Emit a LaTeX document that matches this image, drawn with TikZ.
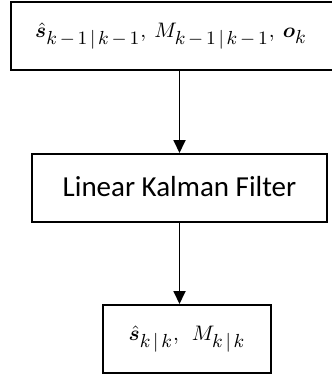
\documentclass[tikz,border=0pt]{standalone}
\usepackage{amsmath}
\usepackage{bm}
\usepackage{graphicx}
\usepackage{fontspec}
\newfontfamily\carlito{Carlito}
\usetikzlibrary{arrows.meta}
\DeclareMathSizes{10}{10}{9}{7}
\newcommand{\smi}{\mskip2.6mu{-}\mskip2.6mu}
\newcommand{\sbar}{\mskip2.5mu|\mskip2.5mu}
\newcommand{\bigmath}[1]{\scalebox{2.1}{$#1$}}
\tikzset{
  boxnode/.style={draw, line width=2pt, rectangle, minimum height=68pt, inner sep=0pt},
  flowarrow/.style={line width=1.8pt, -{Triangle[width=12pt,length=13pt]}}
}
\begin{document}
\begin{tikzpicture}[x=1pt,y=-1pt]
\useasboundingbox (0,0) rectangle (332,375);
\clip (0,0) rectangle (332,375);
\node[boxnode, minimum width=336pt] (top) at (179,36)
  {\hspace*{-16pt}\raisebox{3pt}{\bigmath{\hat{\bm{s}}_{k\smi1\sbar k\smi1},\: M_{k\smi1\sbar k\smi1},\: \bm{o}_k}}};
\node[boxnode, minimum width=168pt] (bot) at (187,339)
  {\raisebox{2pt}{\bigmath{\hat{\bm{s}}_{k\sbar k},\hspace{4.5pt} M_{k\sbar k}}}};
\node[boxnode, minimum width=295pt] (mid) at (179.5,188)
  {\raisebox{3pt}{\carlito\fontsize{29}{32}\selectfont Linear Kalman Filter}};
\draw[flowarrow] (mid.north |- top.south) -- (mid.north);
\draw[flowarrow] (mid.south) -- (mid.south |- bot.north);
\end{tikzpicture}
\end{document}
